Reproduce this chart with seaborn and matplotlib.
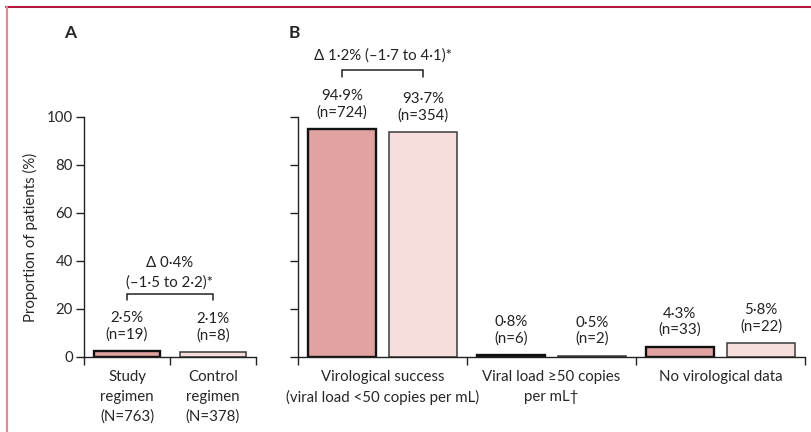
import matplotlib
matplotlib.use("Agg")
import matplotlib.pyplot as plt
import matplotlib.colors as mcolors
from matplotlib.lines import Line2D
import seaborn as sns
import pandas as pd

# ---- data ----
arms = ["Study regimen", "Control regimen"]
panel_a_labels = ["Study\nregimen\n(N=763)", "Control\nregimen\n(N=378)"]
panel_a_values = [2.5, 2.1]
panel_a_text = ["2·5%\n(n=19)", "2·1%\n(n=8)"]

outcomes = ["Virological success\n(viral load <50 copies per mL)",
            "Viral load ≥50 copies\nper mL†",
            "No virological data"]
study_values = [94.9, 0.8, 4.3]
control_values = [93.7, 0.5, 5.8]
study_text = ["94·9%\n(n=724)", "0·8%\n(n=6)", "4·3%\n(n=33)"]
control_text = ["93·7%\n(n=354)", "0·5%\n(n=2)", "5·8%\n(n=22)"]

yticks = [0, 20, 40, 60, 80, 100]
ylabel = "Proportion of patients (%)"
diff_a = "Δ 0·4%\n(–1·5 to 2·2)*"
diff_b = "Δ 1·2% (–1·7 to 4·1)*"

study_color = "#e0a3a2"
control_color = "#f5dedb"

sns.set_style("ticks")
plt.rcParams["font.family"] = ["Lato", "DejaVu Sans"]
plt.rcParams["font.size"] = 10.8
FS = 10.8

W, H = 811, 432
fig = plt.figure(figsize=(W / 100, H / 100), dpi=100)

def px_axes(x0, x1, y_top, y_bot):
    return fig.add_axes([x0 / W, 1 - y_bot / H, (x1 - x0) / W, (y_bot - y_top) / H])

axA = px_axes(84, 256, 117, 357)
axB = px_axes(298, 805, 117, 357)

# ---- Panel A ----
dfA = pd.DataFrame({"cat": panel_a_labels, "arm": arms, "val": panel_a_values})
sns.barplot(data=dfA, x="cat", y="val", hue="arm", hue_order=arms,
            palette=[study_color, control_color], dodge=False, width=0.77,
            saturation=1, legend=False, ax=axA)

# ---- Panel B ----
dfB = pd.DataFrame({
    "cat": outcomes * 2,
    "arm": [arms[0]] * 3 + [arms[1]] * 3,
    "val": study_values + control_values,
})
sns.barplot(data=dfB, x="cat", y="val", hue="arm", hue_order=arms, order=outcomes,
            palette=[study_color, control_color], width=0.964, gap=0.17,
            saturation=1, legend=False, ax=axB)

def is_study(p):
    return mcolors.same_color(p.get_facecolor()[:3], mcolors.to_rgb(study_color))

def style_bars(ax):
    for p in ax.patches:
        if is_study(p):
            p.set_edgecolor("#111111")
            p.set_linewidth(1.7)
        else:
            p.set_edgecolor("#3a3a3a")
            p.set_linewidth(1.1)

style_bars(axA)
style_bars(axB)

def style_axes(ax, ncat, labels, show_ylabels):
    ax.set_ylim(0, 100)
    ax.set_xlim(-0.5, ncat - 0.5)
    for s in ["top", "right"]:
        ax.spines[s].set_visible(False)
    ax.spines["left"].set_bounds(0, 100)
    for s in ["left", "bottom"]:
        ax.spines[s].set_linewidth(1.0)
        ax.spines[s].set_color("#222222")
    ax.set_yticks(yticks)
    if show_ylabels:
        ax.set_yticklabels([str(t) for t in yticks], fontsize=FS)
    else:
        ax.set_yticklabels([])
    ax.tick_params(axis="y", direction="out", length=6, width=1.0, color="#222222", pad=2)
    ax.set_xticks([i - 0.5 for i in range(ncat + 1)])
    ax.set_xticklabels([])
    ax.set_xticks(list(range(ncat)), minor=True)
    ax.set_xticklabels(labels, minor=True, fontsize=FS, linespacing=1.5)
    ax.tick_params(axis="x", which="major", direction="out", length=6, width=1.0, color="#222222")
    ax.tick_params(axis="x", which="minor", length=0, pad=9.5)
    ax.set_xlabel("")
    ax.set_ylabel("")

style_axes(axA, 2, panel_a_labels, True)
style_axes(axB, 3, outcomes, False)
axA.set_ylabel(ylabel, fontsize=FS, labelpad=6)

def bar_centers(ax):
    ps = sorted(ax.patches, key=lambda p: p.get_x())
    return [(p.get_x() + p.get_width() / 2, p.get_height(), p) for p in ps if p.get_width() > 0]

def label_bars(ax, texts_study, texts_control, offset=7):
    for cx, h, p in bar_centers(ax):
        idx = int(round(cx))
        t = (texts_study if is_study(p) else texts_control)[idx]
        ax.annotate(t, xy=(cx, h), xytext=(0, offset), textcoords="offset points",
                    ha="center", va="bottom", fontsize=FS, linespacing=1.15,
                    color="#222222", annotation_clip=False)

label_bars(axA, [panel_a_text[0], panel_a_text[0]], [panel_a_text[1], panel_a_text[1]])
label_bars(axB, study_text, control_text)

# ---- brackets ----
def bracket(ax, x0, x1, y, drop, text, ty, va):
    ax.plot([x0, x0, x1, x1], [y - drop, y, y, y - drop], color="#222222", lw=1.1,
            clip_on=False, solid_joinstyle="miter")
    ax.text((x0 + x1) / 2, ty, text, ha="center", va=va, fontsize=FS,
            linespacing=1.5, color="#222222")

cA = [x for x, _, _ in bar_centers(axA)]
bracket(axA, cA[0], cA[1], 26.3, 2.6, diff_a, 28.0, "bottom")
cB = [x for x, _, _ in bar_centers(axB)][:2]
bracket(axB, cB[0], cB[1], 119.6, 3.0, diff_b, 125.8, "center")

# ---- panel letters ----
fig.text(70 / W, 1 - 33 / H, "A", fontsize=12.5, fontweight="bold", ha="center", va="center")
fig.text(294 / W, 1 - 33 / H, "B", fontsize=12.5, fontweight="bold", ha="center", va="center")

# ---- frame lines ----
fig.add_artist(Line2D([6 / W, 1], [1 - 7 / H, 1 - 7 / H], transform=fig.transFigure,
                      color="#b3173d", lw=1.5))
fig.add_artist(Line2D([7 / W, 7 / W], [0, 1 - 7 / H], transform=fig.transFigure,
                      color="#e088a0", lw=1.6))

fig.savefig("out.png", dpi=100)
